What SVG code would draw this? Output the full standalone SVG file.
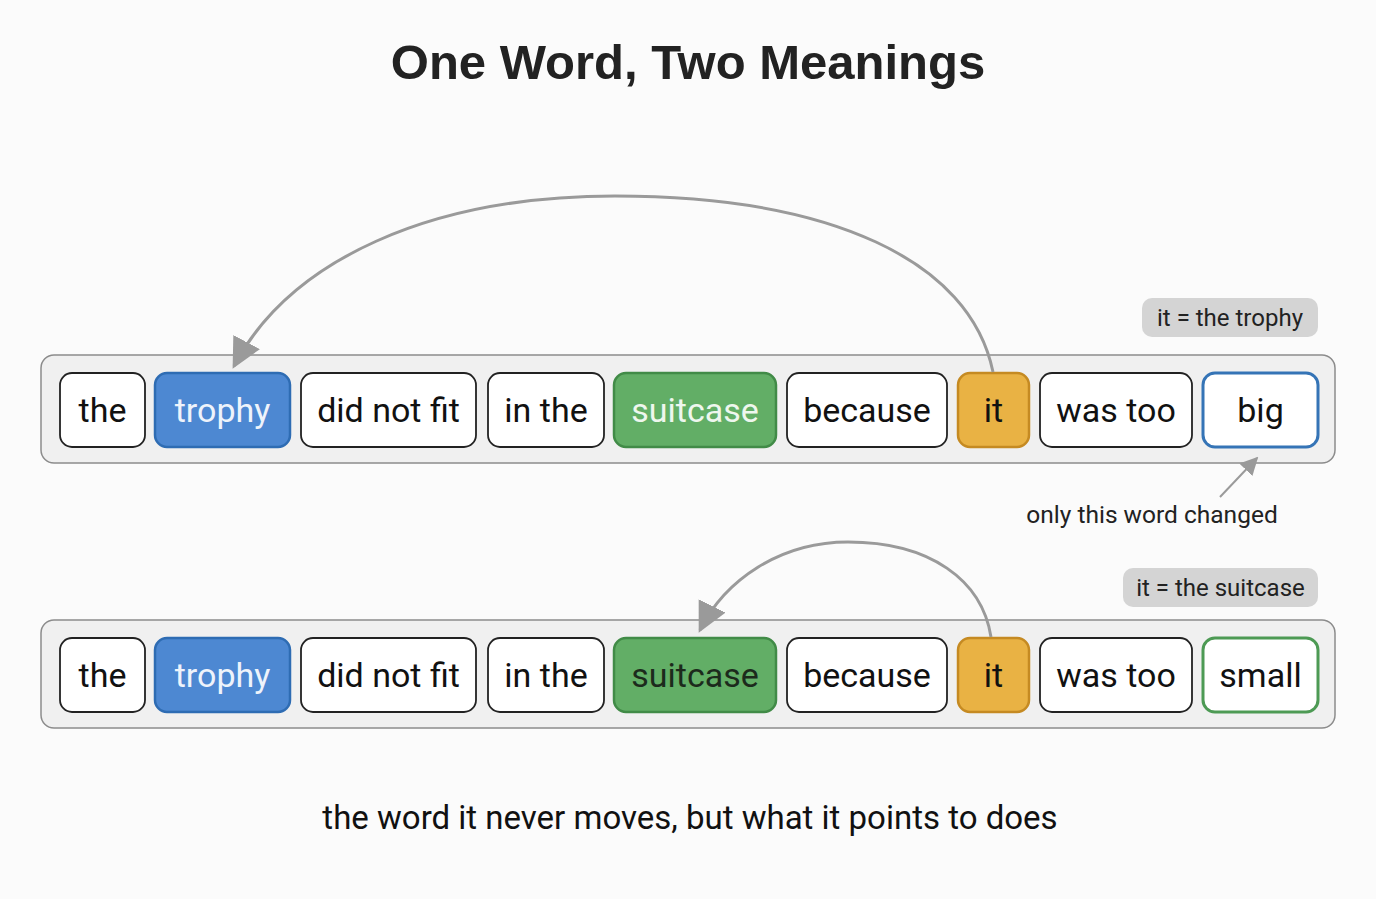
<svg xmlns="http://www.w3.org/2000/svg" width="1376" height="899" viewBox="0 0 1376 899">
<defs>
<marker id="ah" viewBox="0 0 10 10" refX="9" refY="5" markerWidth="10" markerHeight="10" markerUnits="strokeWidth" orient="auto">
<path d="M0,0 L10,5 L0,10 z" fill="#9a9a9a"/>
</marker>
<marker id="ahs" viewBox="0 0 10 10" refX="9" refY="5" markerWidth="9" markerHeight="9" markerUnits="strokeWidth" orient="auto">
<path d="M0,0 L10,5 L0,10 z" fill="#9a9a9a"/>
</marker>
<style>
.title{font-family:"Liberation Sans",Arial,sans-serif;font-weight:bold;font-size:49px;fill:#222}
.w{font-family:Roboto,"Liberation Sans",sans-serif;font-size:34px;fill:#111;text-anchor:middle}
.wl{fill:#eef3fb}
.wg{fill:#eef7ee}
.wd{fill:#1c2a1c}
.row{fill:#f0f0f0;stroke:#8c8c8c;stroke-width:1.5}
.box{fill:#fff;stroke:#222;stroke-width:1.8}
.blue{fill:#4d88d2;stroke:#2e6cb3;stroke-width:2.5}
.green{fill:#62ae66;stroke:#418b47;stroke-width:2.5}
.orange{fill:#e9b244;stroke:#c58a22;stroke-width:2.5}
.bbig{fill:#fff;stroke:#3574b6;stroke-width:3}
.gsmall{fill:#fff;stroke:#4d9a54;stroke-width:3}
.pill{fill:#d4d4d4}
.pt{font-family:Roboto,"Liberation Sans",sans-serif;font-size:24px;fill:#222;text-anchor:middle}
.note{font-family:Roboto,"Liberation Sans",sans-serif;font-size:24.5px;fill:#222;text-anchor:middle}
.cap{font-family:Roboto,"Liberation Sans",sans-serif;font-size:33px;fill:#111;text-anchor:middle}
.arc{fill:none;stroke:#9a9a9a;stroke-width:3}
</style>
</defs>
<rect width="1376" height="899" fill="#fbfbfb"/>
<text class="title" x="688" y="79" text-anchor="middle">One Word, Two Meanings</text>

<g id="row1">
<rect class="row" x="41" y="355" width="1294" height="108" rx="13"/>
<g id="r1-the"><rect class="box" x="60" y="373" width="85" height="74" rx="12"/><text class="w" x="102.5" y="422">the</text></g>
<g id="r1-trophy"><rect class="blue" x="155" y="373" width="135" height="74" rx="12"/><text class="w wl" x="222.5" y="422">trophy</text></g>
<g id="r1-didnotfit"><rect class="box" x="301" y="373" width="175" height="74" rx="12"/><text class="w" x="388.5" y="422">did not fit</text></g>
<g id="r1-inthe"><rect class="box" x="488" y="373" width="116" height="74" rx="12"/><text class="w" x="546" y="422">in the</text></g>
<g id="r1-suitcase"><rect class="green" x="614" y="373" width="162" height="74" rx="12"/><text class="w wg" x="695" y="422">suitcase</text></g>
<g id="r1-because"><rect class="box" x="787" y="373" width="160" height="74" rx="12"/><text class="w" x="867" y="422">because</text></g>
<g id="r1-it"><rect class="orange" x="958" y="373" width="71" height="74" rx="12"/><text class="w" x="993.5" y="422">it</text></g>
<g id="r1-wastoo"><rect class="box" x="1040" y="373" width="152" height="74" rx="12"/><text class="w" x="1116" y="422">was too</text></g>
<g id="r1-big"><rect class="bbig" x="1203" y="373" width="115" height="74" rx="12"/><text class="w" x="1260.5" y="422">big</text></g>
</g>

<g id="pill1"><rect class="pill" x="1142" y="298" width="176" height="39" rx="10"/><text class="pt" x="1230" y="326">it = the trophy</text></g>

<g id="row2">
<rect class="row" x="41" y="620" width="1294" height="108" rx="13"/>
<g id="r2-the"><rect class="box" x="60" y="638" width="85" height="74" rx="12"/><text class="w" x="102.5" y="687">the</text></g>
<g id="r2-trophy"><rect class="blue" x="155" y="638" width="135" height="74" rx="12"/><text class="w wl" x="222.5" y="687">trophy</text></g>
<g id="r2-didnotfit"><rect class="box" x="301" y="638" width="175" height="74" rx="12"/><text class="w" x="388.5" y="687">did not fit</text></g>
<g id="r2-inthe"><rect class="box" x="488" y="638" width="116" height="74" rx="12"/><text class="w" x="546" y="687">in the</text></g>
<g id="r2-suitcase"><rect class="green" x="614" y="638" width="162" height="74" rx="12"/><text class="w wd" x="695" y="687">suitcase</text></g>
<g id="r2-because"><rect class="box" x="787" y="638" width="160" height="74" rx="12"/><text class="w" x="867" y="687">because</text></g>
<g id="r2-it"><rect class="orange" x="958" y="638" width="71" height="74" rx="12"/><text class="w" x="993.5" y="687">it</text></g>
<g id="r2-wastoo"><rect class="box" x="1040" y="638" width="152" height="74" rx="12"/><text class="w" x="1116" y="687">was too</text></g>
<g id="r2-small"><rect class="gsmall" x="1203" y="638" width="115" height="74" rx="12"/><text class="w" x="1260.5" y="687">small</text></g>
</g>

<g id="pill2"><rect class="pill" x="1123" y="568" width="195" height="39" rx="10"/><text class="pt" x="1220.5" y="596">it = the suitcase</text></g>

<g id="note"><text class="note" x="1152" y="523">only this word changed</text></g>

<g id="connectors">
<path class="arc" d="M 993 372 C 970 260, 830 196, 615 196 C 430 196, 290 260, 234 366" marker-end="url(#ah)"/>
<path class="arc" d="M 991 637 C 982 580, 930 542, 848 542 C 780 542, 725 580, 700 630" marker-end="url(#ah)"/>
<path fill="none" stroke="#9a9a9a" stroke-width="2" d="M 1220 497 L 1257 458" marker-end="url(#ahs)"/>
</g>

<text class="cap" x="690" y="829">the word it never moves, but what it points to does</text>
</svg>
